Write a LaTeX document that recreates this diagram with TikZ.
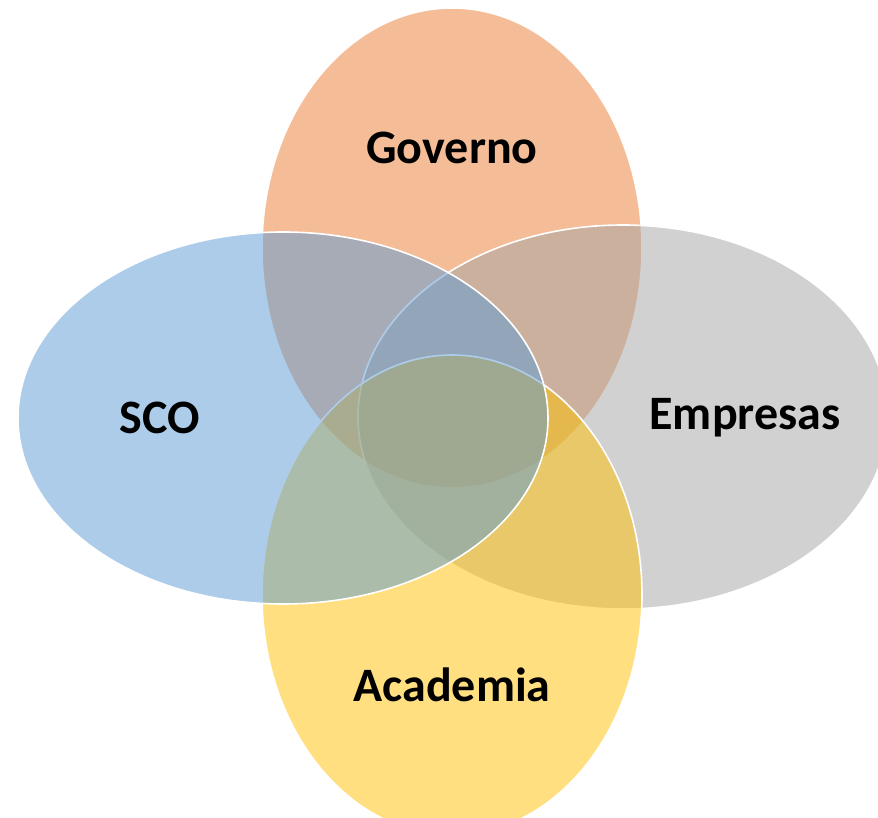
\documentclass[tikz,border=0pt]{standalone}
\usepackage{fontspec}
\setmainfont{Carlito}
\definecolor{gorange}{HTML}{ED7D31}
\definecolor{ggray}{HTML}{A5A5A5}
\definecolor{gyellow}{HTML}{FFC000}
\definecolor{gblue}{HTML}{5B9BD5}
\begin{document}
\begin{tikzpicture}[x=1pt,y=-1pt,
  venn/.style={fill opacity=0.5, draw=white, draw opacity=1, line width=1.6pt},
  lbl/.style={font=\fontsize{48}{52}\selectfont\bfseries, text=black}]
\useasboundingbox (0,0) rectangle (878,818);
\fill[white] (0,0) rectangle (878,818);
\begin{scope}
\clip (0,0) rectangle (878,818);
\path[venn, fill=gorange] (452,248) ellipse [x radius=190, y radius=240];
\path[venn, fill=ggray] (623,417) ellipse [x radius=265, y radius=192];
\path[venn, fill=gyellow] (452,595) ellipse [x radius=190, y radius=240];
\path[venn, fill=gblue] (283,418) ellipse [x radius=265, y radius=186];
\end{scope}
\node[lbl] (gov) at (452,148) {Governo};
\node[lbl] (sco) at (160,418) {SCO};
\node[lbl] (emp) at (745,418) {Empresas};
\node[lbl] (aca) at (452,685) {Academia};
\end{tikzpicture}
\end{document}
